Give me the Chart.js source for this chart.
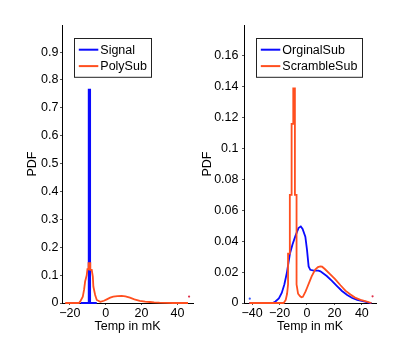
<!DOCTYPE html>
<html>
<head>
<meta charset="utf-8">
<script src="https://cdn.jsdelivr.net/npm/chart.js@4.4.0/dist/chart.umd.min.js"></script>
<style>
  html, body { margin: 0; padding: 0; background: #fff; }
  #wrap { position: relative; width: 415px; height: 341px; overflow: hidden; }
  canvas { position: absolute; top: 0; }
  #leftChart { left: 0; }
  #rightChart { left: 195px; }
</style>
</head>
<body>
<div id="wrap">
  <canvas id="leftChart" width="200" height="341"></canvas>
  <canvas id="rightChart" width="220" height="341"></canvas>
</div>
<script>
// ---- left panel: Signal vs PolySub ----
const signalX = [-14, -9.5, -9.5, -8.7, -8.7, -5];
const signalY = [0, 0, 0.765, 0.765, 0, 0];

const polyX = [-22.6, -15, -14.3, -12.8, -12.1, -11.5, -10.6, -10.2, -9.6, -9.6, -8.6, -8.6, -7.8, -7.2, -6.9, -5.9, -5, -3, -1, 0.6, 2.5, 4.2, 6.5, 8.9, 11, 13.5, 16, 19, 22, 24.6, 27, 30, 34, 37.6, 45.9];
const polyY = [0, 0, 0.005, 0.023, 0.047, 0.077, 0.1, 0.121, 0.121, 0.143, 0.143, 0.119, 0.119, 0.095, 0.059, 0.029, 0.011, 0.004, 0.008, 0.013, 0.019, 0.023, 0.025, 0.0255, 0.0235, 0.019, 0.013, 0.008, 0.005, 0.0036, 0.002, 0.001, 0.0004, 0, 0];

const polyDotX = [46.5];
const polyDotY = [0.023];

const leftXTicks = [-20, 0, 20, 40];
const leftYTicks = [0, 0.1, 0.2, 0.3, 0.4, 0.5, 0.6, 0.7, 0.8, 0.9];

// ---- right panel: OrginalSub vs ScrambleSub ----
const origX = [-42, -25, -23, -20.5, -18.4, -16.5, -14.7, -13.5, -12.3, -10.5, -8.6, -6.2, -4.5, -3.2, -1.2, 0, 1.2, 2.4, 5, 8.3, 9.8, 14.4, 18, 21.9, 25.5, 29.3, 33, 36.6, 41.5, 45, 47];
const origY = [0, 0, 0.001, 0.003, 0.0065, 0.012, 0.0194, 0.026, 0.0324, 0.038, 0.043, 0.0485, 0.0496, 0.048, 0.043, 0.0345, 0.0237, 0.0215, 0.021, 0.021, 0.0205, 0.0175, 0.0145, 0.011, 0.0078, 0.0052, 0.0032, 0.002, 0.001, 0.0003, 0];

const scrambleX = [-42, -17, -15.5, -14.5, -13.8, -13.8, -12.5, -12.5, -11.2, -11.2, -10, -10, -8.8, -8.8, -7.6, -7.6, -6.5, -5, -4, -3, -1, 0, 1.5, 3.4, 6, 8, 9.7, 11, 13, 17, 20.5, 24.4, 28, 31.7, 35, 39, 43, 47];
const scrambleY = [0, 0, 0.002, 0.006, 0.012, 0.032, 0.032, 0.07, 0.07, 0.116, 0.116, 0.139, 0.139, 0.07, 0.07, 0.012, 0.006, 0.0043, 0.0037, 0.004, 0.0075, 0.0097, 0.013, 0.0172, 0.0216, 0.0232, 0.0237, 0.0235, 0.022, 0.0185, 0.0155, 0.0115, 0.008, 0.0055, 0.0035, 0.002, 0.001, 0];

const origDotX = [-41.7];
const origDotY = [0.0028];
const scrambleDotX = [47.8];
const scrambleDotY = [0.0043];

const rightXTicks = [-40, -20, 0, 20, 40];
const rightYTicks = [0, 0.02, 0.04, 0.06, 0.08, 0.1, 0.12, 0.14, 0.16];

// ---- styling ----
const FONT = 'Liberation Sans, Arial, Helvetica, sans-serif';
const BLUE = '#0a0aff';
const ORANGE = '#ff4f1f';

const toPoints = (xs, ys) => xs.map((x, i) => ({ x, y: ys[i] }));
const fmtNum = v => {
  const s = String(parseFloat(v.toFixed(3)));
  return s.replace('-', '\u2212');
};

// MATLAB-style boxed legend, drawn inside the plot area
const boxLegend = {
  id: 'boxLegend',
  afterDatasetsDraw(chart, args, opts) {
    const ctx = chart.ctx;
    const ca = chart.chartArea;
    const items = chart.data.datasets.filter(d => d.label);
    ctx.save();
    ctx.font = opts.fontSize + 'px ' + FONT;
    const textW = Math.max(...items.map(d => ctx.measureText(d.label).width));
    const x = Math.round(ca.left + opts.offsetX) + 0.5;
    const y = Math.round(ca.top + opts.offsetY) + 0.5;
    const w = Math.round(opts.padLeft + opts.lineLen + opts.gap + textW + opts.padRight);
    const h = opts.rowH * items.length + opts.padV * 2;
    ctx.fillStyle = '#fff';
    ctx.fillRect(x, y, w, h);
    ctx.strokeStyle = '#222';
    ctx.lineWidth = 1;
    ctx.strokeRect(x, y, w, h);
    items.forEach((d, i) => {
      const cy = y + opts.padV + opts.rowH * (i + 0.5);
      ctx.strokeStyle = d.borderColor;
      ctx.lineWidth = 2;
      ctx.beginPath();
      ctx.moveTo(x + opts.padLeft, cy);
      ctx.lineTo(x + opts.padLeft + opts.lineLen, cy);
      ctx.stroke();
      ctx.fillStyle = '#000';
      ctx.textBaseline = 'middle';
      ctx.textAlign = 'left';
      ctx.fillText(d.label, x + opts.padLeft + opts.lineLen + opts.gap, cy + 0.5);
    });
    ctx.restore();
  }
};

function lineSet(label, xs, ys, color, order) {
  return {
    label, data: toPoints(xs, ys), borderColor: color, backgroundColor: color,
    borderWidth: 1.8, pointRadius: 0, tension: 0, order, clip: 3
  };
}
function dotSet(xs, ys, color) {
  return {
    data: toPoints(xs, ys), showLine: false, pointRadius: 1.1, borderWidth: 0,
    pointBackgroundColor: color, pointBorderColor: color, order: 0, clip: 3
  };
}

function makePanel(id, datasets, o) {
  return new Chart(document.getElementById(id), {
    type: 'line',
    data: { datasets },
    plugins: [boxLegend],
    options: {
      responsive: false,
      animation: false,
      layout: { padding: { left: 0, top: 25, right: o.padRight, bottom: 0 } },
      plugins: {
        legend: { display: false },
        tooltip: { enabled: false },
        boxLegend: { offsetX: 12, offsetY: 13, padLeft: 4.3, lineLen: 19.5, gap: 2, padRight: 5, rowH: 16.4, padV: 3, fontSize: 12.5 }
      },
      scales: {
        x: {
          type: 'linear', min: o.xMin, max: o.xMax,
          afterBuildTicks: s => { s.ticks = o.xTicks.map(v => ({ value: v })); },
          afterFit: s => { s.height = 38; },
          ticks: { callback: fmtNum, color: '#000', font: { family: FONT, size: 12.5 }, padding: 1, maxRotation: 0, autoSkip: false },
          grid: { drawOnChartArea: false, drawTicks: true, tickLength: 2, color: '#555' },
          border: { color: '#000', width: 1 },
          title: { display: true, text: 'Temp in mK', color: '#000', font: { family: FONT, size: 12.5 }, padding: { top: 0, bottom: 7 } }
        },
        y: {
          type: 'linear', min: 0, max: o.yMax,
          afterBuildTicks: s => { s.ticks = o.yTicks.map(v => ({ value: v })); },
          afterFit: s => { s.width = o.yWidth; },
          ticks: { callback: fmtNum, color: '#000', font: { family: FONT, size: 12.5 }, padding: o.yPad, autoSkip: false },
          grid: { drawOnChartArea: false, drawTicks: true, tickLength: 2, color: '#555' },
          border: { color: '#000', width: 1 },
          title: { display: true, text: 'PDF', color: '#000', font: { family: FONT, size: 12.5 }, padding: { top: o.titlePad, bottom: 0 } }
        }
      }
    }
  });
}

makePanel('leftChart', [
  lineSet('Signal', signalX, signalY, BLUE, 2),
  lineSet('PolySub', polyX, polyY, ORANGE, 1),
  dotSet(polyDotX, polyDotY, '#e0304a')
], { xMin: -24.4, xMax: 48.7, xTicks: leftXTicks, yMax: 0.997, yTicks: leftYTicks, yWidth: 62, yPad: 1.5, titlePad: 25, padRight: 7 });

makePanel('rightChart', [
  lineSet('OrginalSub', origX, origY, BLUE, 2),
  lineSet('ScrambleSub', scrambleX, scrambleY, ORANGE, 1),
  dotSet(origDotX, origDotY, '#3050ff'),
  dotSet(scrambleDotX, scrambleDotY, '#e0304a')
], { xMin: -45.9, xMax: 50.3, xTicks: rightXTicks, yMax: 0.18, yTicks: rightYTicks, yWidth: 49, yPad: 3.5, titlePad: 5, padRight: 39 });
</script>
</body>
</html>
